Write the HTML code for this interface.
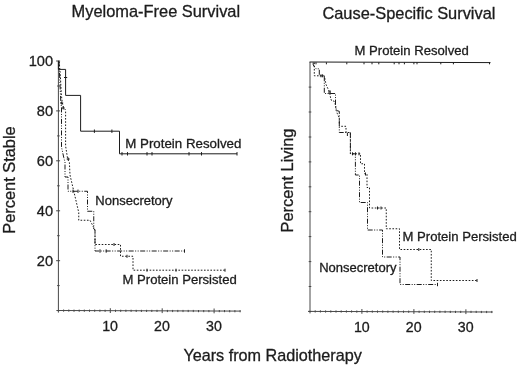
<!DOCTYPE html>
<html><head><meta charset="utf-8"><title>Survival curves</title>
<style>
html,body{margin:0;padding:0;background:#fff;}
svg{display:block;will-change:transform;-webkit-font-smoothing:antialiased;}
text{font-family:"Liberation Sans", Arial, sans-serif;fill:#1c1c1c;stroke:#1c1c1c;stroke-width:0.3px;}
.t16{font-size:16.4px;}
.t13{font-size:13.1px;}
.tk{font-size:14.6px;}
.ln{fill:none;stroke:#1c1c1c;stroke-width:1;}
.ax{fill:none;stroke:#484848;stroke-width:1;}
.dot{stroke-dasharray:1.6 1.6;}
.dd{stroke-dasharray:5 1.5 1 1.5 1 1.5;}
</style></head><body>
<svg width="520" height="366" viewBox="0 0 520 366">
<rect width="520" height="366" fill="#fff"/>

<text class="t16" x="71.6" y="17.2">Myeloma-Free Survival</text>
<text class="t16" x="322.4" y="18.6">Cause-Specific Survival</text>
<text class="t16" x="183.4" y="361" style="font-size:16.2px">Years from Radiotherapy</text>
<text class="t16" transform="translate(15,233.8) rotate(-90)">Percent Stable</text>
<text class="t16" transform="translate(293.2,232.5) rotate(-90)">Percent Living</text>
<path class="ax" d="M58.4,60.5V312.6M56.4,310.5L240.6,311.1"/>
<path class="ax" d="M57.1,310.6H59.7M57.1,285.6H59.7M56.1,260.7H60.1M57.1,235.7H59.7M56.1,210.8H60.1M57.1,185.8H59.7M56.1,160.8H60.1M57.1,135.9H59.7M56.1,110.9H60.1M57.1,86.0H59.7M56.1,61.0H60.1"/>
<path class="ax" d="M63.6,309.5V311.7M68.8,309.5V311.7M74.0,309.6V311.8M79.2,309.6V311.8M84.3,309.6V311.8M89.5,309.6V311.8M94.7,309.6V311.8M99.9,309.6V311.8M105.1,309.7V311.9M110.3,308.2V313.0M115.5,309.7V311.9M120.7,309.7V311.9M125.9,309.7V311.9M131.1,309.7V311.9M136.2,309.8V312.0M141.4,309.8V312.0M146.6,309.8V312.0M151.8,309.8V312.0M157.0,309.8V312.0M162.2,308.3V313.1M167.4,309.9V312.1M172.6,309.9V312.1M177.8,309.9V312.1M183.0,309.9V312.1M188.2,309.9V312.1M193.3,309.9V312.1M198.5,310.0V312.2M203.7,310.0V312.2M208.9,310.0V312.2M214.1,308.5V313.3M219.3,310.0V312.2M224.5,310.0V312.2M229.7,310.1V312.3M234.9,310.1V312.3M240.1,310.1V312.3"/>
<text class="tk" x="53.1" y="265.9" text-anchor="end">20</text>
<text class="tk" x="53.1" y="216.0" text-anchor="end">40</text>
<text class="tk" x="53.1" y="166.0" text-anchor="end">60</text>
<text class="tk" x="53.1" y="116.1" text-anchor="end">80</text>
<text class="tk" x="53.1" y="66.2" text-anchor="end">100</text>
<text class="tk" x="110.1" y="330.6" text-anchor="middle" style="font-size:14.2px">10</text>
<text class="tk" x="162.0" y="330.6" text-anchor="middle" style="font-size:14.2px">20</text>
<text class="tk" x="213.9" y="330.6" text-anchor="middle" style="font-size:14.2px">30</text>
<path class="ln" d="M58.4,61V69.4H65.6V95.4H80.6V131.2H119.5V153.8H237"/>
<path class="ln" d="M94.4,129.5V132.9M111.9,129.5V132.9M122.0,152.1V155.5M127.5,152.1V155.5M147.0,152.1V155.5M152.0,152.1V155.5M189.0,152.1V155.5M201.5,152.1V155.5M237.0,152.1V155.5M64,77.5H67.2"/>
<path class="ln dot" d="M59.2,61.5L60.3,75L61.4,95L62.3,103L63.7,108L65.6,110V146L67.5,158L69.4,162.5L70,175L78.75,212.5V220.25H90L95,230V244.5H120.5V256.25H133V270.2H225"/>
<path class="ln" d="M114.0,243.0V246.0M127.0,254.8V257.8M147.0,268.7V271.7M176.0,268.7V271.7M225.0,268.7V271.7"/>
<path class="ln dd" d="M59,61.5L59.8,80L60.7,100L61.5,108V147L63.75,157.5L65,162V177H68V191.25H87.5V211.25H93.75V229L95,230V251H184.5"/>
<path class="ln" d="M73.0,189.6V192.9M78.0,189.6V192.9M100.0,249.3V252.7M106.2,249.3V252.7M184.5,249.3V252.7M61.7,101.5V104.5M63.2,106.5V109.5M68.2,157.5V160.5M60.2,103H63.2M61.7,108H64.7M66.7,159H69.7"/>
<text class="t13" x="125.3" y="147.6" style="font-size:13.3px">M Protein Resolved</text>
<text class="t13" x="95.3" y="204.8" style="font-size:13px">Nonsecretory</text>
<text class="t13" x="122.5" y="284.1">M Protein Persisted</text>
<path class="ax" d="M310.0,62V313.4M308.0,311.4L492.5,312.0"/>
<path class="ax" d="M308.7,311.4H311.3M308.7,286.5H311.3M308.7,261.6H311.3M308.7,236.6H311.3M308.7,211.7H311.3M308.7,186.8H311.3M308.7,161.9H311.3M308.7,137.0H311.3M308.7,112.0H311.3M308.7,87.1H311.3"/>
<path class="ax" d="M315.2,310.3V312.5M320.4,310.3V312.5M325.6,310.4V312.6M330.8,310.4V312.6M336.0,310.4V312.6M341.2,310.4V312.6M346.4,310.4V312.6M351.6,310.4V312.6M356.8,310.5V312.7M361.9,309.0V313.8M367.1,310.5V312.7M372.3,310.5V312.7M377.5,310.5V312.7M382.7,310.5V312.7M387.9,310.6V312.8M393.1,310.6V312.8M398.3,310.6V312.8M403.5,310.6V312.8M408.7,310.6V312.8M413.9,309.1V313.9M419.1,310.7V312.9M424.3,310.7V312.9M429.5,310.7V312.9M434.7,310.7V312.9M439.9,310.7V312.9M445.1,310.7V312.9M450.3,310.8V313.0M455.5,310.8V313.0M460.7,310.8V313.0M465.9,309.3V314.1M471.0,310.8V313.0M476.2,310.8V313.0M481.4,310.9V313.1M486.6,310.9V313.1M491.8,310.9V313.1"/>
<text class="tk" x="361.8" y="331.8" text-anchor="middle" style="font-size:14.2px">10</text>
<text class="tk" x="413.7" y="331.8" text-anchor="middle" style="font-size:14.2px">20</text>
<text class="tk" x="465.7" y="331.8" text-anchor="middle" style="font-size:14.2px">30</text>
<path class="ln" d="M309.5,62L490.5,62.6"/>
<path class="ln" d="M316.0,62.3V64.3M326.4,62.3V64.3M346.8,62.3V64.3M364.0,62.3V64.3M372.0,62.3V64.3M378.8,62.3V64.3M394.2,62.3V64.3M399.0,62.3V64.3M404.4,62.3V64.3M413.9,62.3V64.3M417.0,62.3V64.3M440.8,62.3V64.3M453.4,62.3V64.3M489.5,62.3V64.3"/>
<path class="ln dot" d="M314.3,62.5V75.8H324.3L326,84.4L328,88.8L329.5,92L331,100L333.6,100.6L335.5,105L336,110L337.4,113.8L339.3,118V126.3H346V132.5H350.4V153.8H360.5V163.75H364.5V173.75H367V187.5H369.5V208H386.25V228.75H399.5V249.5H431.25V280.5H477"/>
<path class="ln" d="M377.5,206.5V209.5M381.0,206.5V209.5M418.8,248.0V251.0M477.0,279.0V282.0"/>
<path class="ln dd" d="M313.2,62.5V65L316,68.8H319.3V75.8H324.3V93.5H335.5V105L336.5,110.5L339.3,111.3V132.5H350.4V153.8H355.4V175H359.5V202.5H367.5V230H382.5V257H400V284.5H437.5"/>
<path class="ln" d="M437.5,282.8V286.2M321.0,74.3V77.3M322.6,74.3V77.3M329.0,90.5V94.1M330.2,90.5V94.1M347.4,133.0V136.0M352.5,152.3V155.3M355.5,152.3V155.3M359.0,152.3V155.3M365.5,172.5V175.5"/>
<text class="t13" x="354.5" y="55.2">M Protein Resolved</text>
<text class="t13" x="402.5" y="241">M Protein Persisted</text>
<text class="t13" x="319.2" y="272.2" style="font-size:13px">Nonsecretory</text>
</svg>
</body></html>
